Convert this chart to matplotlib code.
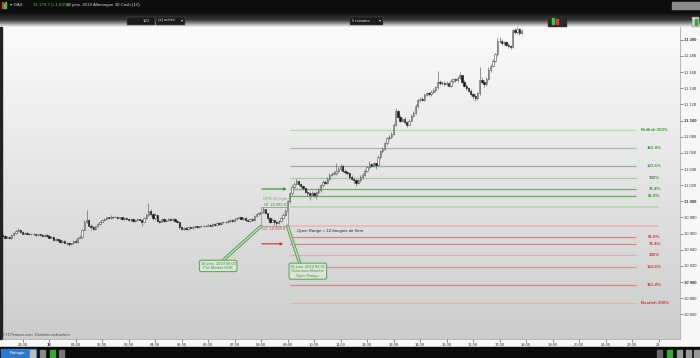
import numpy as np
import pandas as pd
import matplotlib
matplotlib.use("Agg")
import matplotlib.pyplot as plt
import matplotlib.dates as mdates
import matplotlib.patheffects as pe
from matplotlib.patches import Rectangle, FancyBboxPatch
from matplotlib.colors import LinearSegmentedColormap

plt.rcParams['font.family'] = ['Liberation Sans', 'DejaVu Sans']

# DAX, velas de 5 minutos: 17/01/2019 22:15 -> 18/01/2019 17:50
debut = '2019-01-17 22:15'
apertura0 = 10958
cierres = [
    10957, 10955, 10956, 10954, 10958, 10961, 10963, 10965, 10962,
    10960, 10961, 10960, 10959, 10960, 10959, 10958, 10959, 10958, 10957, 10958, 10957,
    10955, 10956, 10952, 10953, 10952, 10950, 10951, 10949, 10948, 10947, 10948, 10951,
    10950, 10955, 10956, 10965, 10975, 10977, 10970, 10968, 10966, 10969, 10972, 10975,
    10977, 10978, 10980, 10979, 10981, 10980, 10981, 10979, 10980, 10978, 10979, 10978,
    10977, 10978, 10976, 10977, 10978, 10977, 10975, 10979, 10983, 10988, 10984, 10979,
    10983, 10976, 10975, 10978, 10976, 10977, 10978, 10977, 10978, 10976, 10974, 10968,
    10966, 10967, 10966, 10968, 10967, 10968, 10969, 10968, 10969, 10970, 10969, 10970,
    10971, 10970, 10972, 10971, 10973, 10972, 10974, 10975, 10974, 10976, 10977, 10976,
    10978, 10979, 10980, 10978, 10979, 10977, 10976, 10978, 10977, 10982, 10984, 10985,
    10987, 10990, 10985, 10979, 10975, 10977, 10974, 10973, 10976, 10979, 10983, 10988,
    11000, 11010, 11018, 11022, 11025, 11021, 11019, 11016, 11012, 11010, 11008, 11010,
    11008, 11011, 11014, 11020, 11024, 11023, 11028, 11033, 11034, 11035, 11038, 11040,
    11044, 11038, 11036, 11035, 11030, 11028, 11026, 11023, 11026, 11030, 11033, 11038,
    11042, 11046, 11044, 11047, 11045, 11055, 11062, 11065, 11072, 11078, 11080, 11084,
    11095, 11112, 11105, 11100, 11102, 11098, 11095, 11100, 11106, 11110, 11118, 11125,
    11127, 11126, 11132, 11134, 11133, 11136, 11138, 11141, 11148, 11146, 11147, 11145,
    11147, 11143, 11149, 11151, 11150, 11153, 11156, 11148, 11143, 11140, 11137, 11133,
    11131, 11128, 11134, 11150, 11148, 11145, 11152, 11163, 11168, 11174, 11182, 11199,
    11198, 11196, 11197, 11194, 11192, 11191, 11212, 11210, 11213, 11208, 11211,
]
maximos = [
    10959, 10958, 10957, 10957, 10959, 10962, 10964, 10967, 10966,
    10963, 10962, 10962, 10961, 10961, 10961, 10960, 10960, 10960, 10959, 10959, 10959,
    10958, 10957, 10957, 10954, 10954, 10953, 10952, 10952, 10950, 10949, 10949, 10952,
    10953, 10956, 10958, 10966, 10977, 10989, 10978, 10972, 10969, 10970, 10973, 10976,
    10978, 10979, 10981, 10981, 10983, 10982, 10982, 10982, 10981, 10981, 10980, 10980,
    10979, 10979, 10979, 10978, 10979, 10979, 10978, 10980, 10985, 10998, 10990, 10985,
    10985, 10984, 10977, 10979, 10979, 10978, 10979, 10979, 10979, 10979, 10977, 10975,
    10969, 10968, 10968, 10969, 10969, 10969, 10970, 10970, 10970, 10971, 10971, 10971,
    10972, 10972, 10973, 10973, 10974, 10974, 10975, 10976, 10976, 10977, 10978, 10978,
    10979, 10980, 10981, 10981, 10980, 10980, 10978, 10979, 10979, 10983, 10985, 10987,
    10989, 10992.8, 10991, 10986, 10980, 10979, 10978, 10976, 10977, 10981, 10985, 10990,
    11002, 11012, 11020, 11024, 11028, 11026, 11023, 11020, 11017, 11014, 11012, 11013,
    11012, 11013, 11016, 11022, 11026, 11026, 11030, 11035, 11036, 11038, 11048, 11042,
    11046, 11045, 11040, 11038, 11036, 11032, 11030, 11028, 11028, 11032, 11035, 11040,
    11044, 11050, 11048, 11049, 11048, 11057, 11064, 11067, 11074, 11080, 11082, 11086,
    11097, 11116, 11113, 11107, 11104, 11104, 11100, 11102, 11108, 11112, 11120, 11127,
    11129, 11129, 11134, 11136, 11136, 11138, 11140, 11143, 11162, 11150, 11149, 11149,
    11149, 11148, 11151, 11153, 11153, 11155, 11160, 11157, 11150, 11145, 11142, 11139,
    11135, 11133, 11136, 11166, 11154, 11150, 11154, 11166, 11170, 11176, 11184, 11202,
    11203, 11201, 11199, 11199, 11196, 11194, 11214, 11215, 11216, 11215, 11214,
]
minimos = [
    10956, 10954, 10954, 10953, 10953, 10957, 10960, 10962, 10961,
    10959, 10959, 10959, 10958, 10958, 10958, 10957, 10957, 10957, 10956, 10956, 10956,
    10954, 10954, 10951, 10951, 10950, 10949, 10949, 10948, 10946, 10945, 10946, 10947,
    10949, 10949, 10954, 10955, 10964, 10973, 10969, 10965, 10964, 10965, 10968, 10971,
    10974, 10976, 10977, 10978, 10978, 10979, 10979, 10978, 10978, 10977, 10977, 10977,
    10976, 10976, 10975, 10975, 10976, 10976, 10970, 10974, 10978, 10982, 10982, 10977,
    10977, 10974, 10973, 10974, 10975, 10975, 10976, 10976, 10976, 10975, 10973, 10966,
    10964, 10965, 10965, 10965, 10966, 10966, 10967, 10967, 10967, 10968, 10968, 10968,
    10969, 10969, 10969, 10970, 10970, 10971, 10971, 10973, 10973, 10973, 10975, 10975,
    10975, 10977, 10978, 10977, 10977, 10976, 10975, 10975, 10976, 10976, 10981, 10983,
    10984, 10986, 10984, 10977, 10973, 10974, 10971, 10969.8, 10972, 10975, 10978, 10982,
    10986, 10998, 11008, 11016, 11020, 11019, 11017, 11014, 11010, 11007, 11002, 11006,
    11005, 11003, 11009, 11012, 11018, 11021, 11021, 11026, 11031, 11032, 11033, 11035,
    11038, 11036, 11034, 11033, 11028, 11026, 11023, 11019, 11021, 11024, 11028, 11031,
    11036, 11040, 11042, 11042, 11040, 11044, 11053, 11060, 11063, 11070, 11076, 11078,
    11082, 11093, 11103, 11098, 11098, 11096, 11092, 11094, 11099, 11104, 11108, 11116,
    11123, 11124, 11124, 11130, 11131, 11131, 11134, 11136, 11139, 11144, 11144, 11143,
    11143, 11141, 11141, 11147, 11148, 11148, 11151, 11146, 11141, 11138, 11135, 11130,
    11127, 11124, 11126, 11132, 11145, 11142, 11143, 11150, 11160, 11166, 11172, 11180,
    11196, 11194, 11194, 11192, 11190, 11189, 11190, 11207, 11207, 11206, 11207,
]

# rango pre-market 08:00-09:00 y extensiones
rango_hi = 10992.8
rango_lo = 10969.8
base_ext = 59.5
niveles_pct = [61.8, 76.4, 100, 123.6, 161.8, 200]
etiq_bull = ['61.8%', '76.4%', '100%', '123.6%', '161.8%', 'Bullish 200%']
etiq_bear = ['61.8%', '76.4%', '100%', '123.6%', '161.8%', 'Bearish 200%']
col_bull = ['#6fa866', '#79aa71', '#a8cba0', '#8fb887', '#9cc494', '#bcd4b5']
col_bear = ['#d48585', '#d38787', '#e4adad', '#d89696', '#cf8c8c', '#e4b4b4']

horas_x = ['23:00', '18', '01:00', '02:00', '03:00', '04:00', '05:00', '06:00',
           '07:00', '08:00', '09:00', '10:00', '11:00', '12:00', '13:00', '14:00',
           '15:00', '16:00', '17:00', '18:00', '19:00', '20:00', '21:00', '22:00', '21']

verde = '#3f9a38'
rojo = '#d23a3a'


def fmt(v, dec=0):
    s = f"{v:,.{dec}f}".replace(',', ' ')
    return s


def t(s):
    return mdates.date2num(pd.Timestamp(s))


fig = plt.figure(figsize=(7, 3.58), dpi=100)

# ---- fondo de la ventana (coordenadas en pixeles)
fondo = fig.add_axes([0, 0, 1, 1])
fondo.set_xlim(0, 700)
fondo.set_ylim(358, 0)
fondo.axis('off')
fondo.add_patch(Rectangle((0, 0), 700, 358, color='#f7f7f7', zorder=0))
fondo.add_patch(Rectangle((0, 0), 700, 15, color='#0d0d0d', zorder=1))
barra = np.linspace(0, 1, 64).reshape(-1, 1)
fondo.imshow(barra, extent=[0, 700, 27, 13], aspect='auto', zorder=1,
             cmap=LinearSegmentedColormap.from_list('b', ['#101010', '#3a3a3a', '#f2f2f2']))
grad = np.linspace(0, 1, 256).reshape(-1, 1)
fondo.imshow(grad, extent=[2, 680, 339, 27], aspect='auto', zorder=1,
             cmap=LinearSegmentedColormap.from_list('g', ['#fbfbfb', '#cccccc']))
fondo.add_patch(Rectangle((0, 27), 2, 312, color='#222222', zorder=2))
fondo.add_patch(Rectangle((0, 347), 700, 11, color='#0b0b0b', zorder=2))

# cabecera
fondo.add_patch(Rectangle((2, 2), 1.2, 6, color='#e33', zorder=3))
fondo.add_patch(Rectangle((3.5, 3.5), 1.2, 4.5, color='#3c3', zorder=3))
fondo.add_patch(Rectangle((5, 1.5), 1.2, 6.5, color='#3c3', zorder=3))
fondo.text(10, 5, '▾ DAX', color='#dddddd', fontsize=3.2, va='center', zorder=3)
fondo.text(33, 5, '11 179,7 (+1,63%)', color='#3fcf3f', fontsize=3.2, va='center', zorder=3)
fondo.text(66, 5, '18 janv. 2019 Allemagne 30 Cash (1€)', color='#d8d8d8', fontsize=3.2,
           va='center', zorder=3)
fondo.add_patch(Rectangle((672, 2), 28, 7, color='#8a8a8a', zorder=3))
fondo.add_patch(Rectangle((127, 16.5), 28, 8, color='#1b1b1b', ec='#555', lw=0.3, zorder=3))
fondo.text(149, 20.5, '100', color='#e0e0e0', fontsize=3, ha='right', va='center', zorder=4)
fondo.add_patch(Rectangle((156, 16.5), 29, 8, color='#1b1b1b', ec='#555', lw=0.3, zorder=3))
fondo.text(158, 20.5, '(x) unités', color='#e0e0e0', fontsize=3, va='center', zorder=4)
fondo.text(182, 20.5, '▾', color='#e0e0e0', fontsize=3, ha='center', va='center', zorder=4)
fondo.add_patch(Rectangle((350, 16.5), 33, 8, color='#1b1b1b', ec='#555', lw=0.3, zorder=3))
fondo.text(352, 20.5, '5 minutes', color='#e0e0e0', fontsize=3, va='center', zorder=4)
fondo.text(380, 20.5, '▾', color='#e0e0e0', fontsize=3, ha='center', va='center', zorder=4)
fondo.add_patch(Rectangle((548, 16), 18, 10, color='#2a2a2a', zorder=3))
fondo.add_patch(Rectangle((552, 18), 2, 6, color='#3c3', zorder=4))
fondo.add_patch(Rectangle((556, 19), 2, 5, color='#e33', zorder=4))
fondo.add_patch(Rectangle((692, 17), 7, 10, color='#cfcfcf', ec='#777', lw=0.3, zorder=3))
fondo.add_patch(Rectangle((694.5, 19), 2, 6, color='#3a3', zorder=4))

# pie
fondo.add_patch(Rectangle((1, 349), 35, 8, color='#2c7ad0', zorder=3))
fondo.text(10, 353, 'Partager', color='white', fontsize=3, va='center', zorder=4)
for xi, cc in [(30, '#bbbbbb'), (40, '#888888'), (50, '#3a3'), (59, '#777777')]:
    fondo.add_patch(Rectangle((xi, 349.5), 5, 7, color=cc, zorder=3))
for xi, cc in [(657, '#666'), (667, '#3a3'), (677, '#999'), (686, '#999'), (694, '#999')]:
    fondo.add_patch(Rectangle((xi, 349.5), 5, 7, color=cc, zorder=3))
fondo.text(2, 335, '© IT-Finance.com  Données indicatives', color='#444444', fontsize=2.8,
           style='italic', va='center', zorder=3)

# ---- grafico
ax = fig.add_axes([2 / 700, 1 - 339 / 358, 678 / 700, 312 / 358])
ax.patch.set_visible(False)

tiempos = pd.date_range(debut, periods=len(cierres), freq='5min')
x = mdates.date2num(tiempos)
c = np.array(cierres, dtype=float)
o = np.r_[apertura0, c[:-1]]
h = np.array(maximos, dtype=float)
l = np.array(minimos, dtype=float)
ancho = 0.62 / 288
sube = c >= o

ax.vlines(x, l, h, color='#6a6a6a', lw=0.5, zorder=2)
ax.bar(x[sube], np.maximum(c - o, 0.7)[sube], bottom=o[sube], width=ancho,
       color='white', edgecolor='#4a4a4a', lw=0.4, zorder=3)
ax.bar(x[~sube], np.maximum(o - c, 0.7)[~sube], bottom=c[~sube], width=ancho,
       color='#151515', edgecolor='#151515', lw=0.4, zorder=3)

# niveles
ini = t('2019-01-18 09:05')
fin = t('2019-01-18 22:10')
fin_hl = t('2019-01-18 23:00')
x_etiq = t('2019-01-18 22:51')
for p, et, cb in zip(niveles_pct, etiq_bull, col_bull):
    nivel = rango_lo + base_ext * p / 100
    ax.hlines(nivel, ini, fin, color=cb, lw=0.9, zorder=1)
    ax.text(x_etiq, nivel, et, color=verde, fontsize=3.2, fontweight='bold',
            ha='center', va='center')
for p, et, cr in zip(niveles_pct, etiq_bear, col_bear):
    nivel = rango_hi - base_ext * p / 100
    ax.hlines(nivel, ini, fin, color=cr, lw=0.9, zorder=1)
    ax.text(x_etiq, nivel, et, color=rojo, fontsize=3.2, fontweight='bold',
            ha='center', va='center')
ax.hlines(rango_hi, t('2019-01-18 09:05'), fin_hl, color='#a9dea1', lw=1.1, zorder=1)
ax.hlines(rango_lo, t('2019-01-18 09:00'), fin_hl, color='#eab2b2', lw=1.1, zorder=1)

# caja pre-market
t8 = t('2019-01-18 08:00')
t9 = t('2019-01-18 09:00')
ax.add_patch(Rectangle((t8, rango_lo), t9 - t8, rango_hi - rango_lo, fill=False,
                       ec='#9a9a9a', lw=0.6, zorder=4))
ax.text(t('2019-01-18 08:05'), rango_hi + 10, f'OPR {rango_hi - rango_lo:.1f} pts'.replace('.', ','),
        color='#8a8a8a', fontsize=2.9, va='center')
ax.text(t('2019-01-18 08:07'), rango_hi + 2.6, f'HI  {fmt(rango_hi, 1)}',
        color=verde, fontsize=2.9, va='center')
ax.text(t('2019-01-18 08:02'), rango_lo - 4, f'LO  {fmt(rango_lo, 1)}',
        color=rojo, fontsize=2.9, va='center')
ax.text(t('2019-01-18 09:21'), rango_lo - 6.6, 'Open Range = 12 bougies de 5mn',
        color='#222222', fontsize=3.2, style='italic', va='center')

# flechas
nivel_up = rango_lo + base_ext * 0.764
nivel_dn = rango_hi - base_ext * 0.764
ax.annotate('', xy=(t('2019-01-18 08:58'), nivel_up), xytext=(t('2019-01-18 08:02'), nivel_up),
            arrowprops=dict(arrowstyle='-|>', color='#2f8f2f', lw=0.8, mutation_scale=3.5,
                            shrinkA=0, shrinkB=0))
ax.annotate('', xy=(t('2019-01-18 08:50'), nivel_dn), xytext=(t('2019-01-18 08:02'), nivel_dn),
            arrowprops=dict(arrowstyle='-|>', color='#d22c2c', lw=0.8, mutation_scale=3.5,
                            shrinkA=0, shrinkB=0))

# bulles
doble = [pe.Stroke(linewidth=2.3, foreground='#4aa84a'), pe.Stroke(linewidth=0.9, foreground='#d6d6d6')]
caja = dict(boxstyle='round,pad=0.35,rounding_size=0.5', fc='#dde5da', ec='#4aa84a', lw=0.7)
ax.annotate('18 janv. 2019 08:00\nPré-Market EUR', xy=(t8, rango_lo - 0.5),
            xytext=(t('2019-01-18 06:23'), 10920), ha='center', va='center',
            color=verde, fontsize=2.9, bbox=caja,
            arrowprops=dict(arrowstyle='-', relpos=(0.6, 1.0), shrinkA=0, shrinkB=0,
                            path_effects=doble))
ax.annotate('18 janv. 2019 09:00\nOuverture Marché\nOpen Range', xy=(t9, rango_lo - 0.5),
            xytext=(t('2019-01-18 09:46'), 10913.5), ha='center', va='center',
            color=verde, fontsize=2.9, bbox=caja,
            arrowprops=dict(arrowstyle='-', relpos=(0.28, 1.0), shrinkA=0, shrinkB=0,
                            path_effects=doble))

# ejes
ax.set_xlim(t('2019-01-17 22:13:30'), t('2019-01-18 23:48:40'))
ax.set_ylim(10829.5, 11215.9)
horas = pd.date_range('2019-01-17 23:00', periods=len(horas_x), freq='h')
ax.set_xticks(mdates.date2num(horas))
ax.set_xticklabels(horas_x)
for lab in ax.get_xticklabels():
    if lab.get_text() == '18':
        lab.set_fontweight('bold')
yt = np.arange(10860, 11201, 20)
ax.yaxis.tick_right()
ax.set_yticks(yt)
ax.set_yticklabels([fmt(v) for v in yt])
for v, lab in zip(yt, ax.get_yticklabels()):
    if v % 100 == 0:
        lab.set_fontweight('bold')
ax.tick_params(axis='x', length=2, width=0.4, pad=0.8, labelsize=3, colors='#333333')
ax.tick_params(axis='y', length=2, width=0.4, pad=1, labelsize=3, colors='#333333')
for s in ['top', 'left']:
    ax.spines[s].set_visible(False)
for s in ['right', 'bottom']:
    ax.spines[s].set_color('#9a9a9a')
    ax.spines[s].set_linewidth(0.5)

fig.savefig('out.png', dpi=100)
